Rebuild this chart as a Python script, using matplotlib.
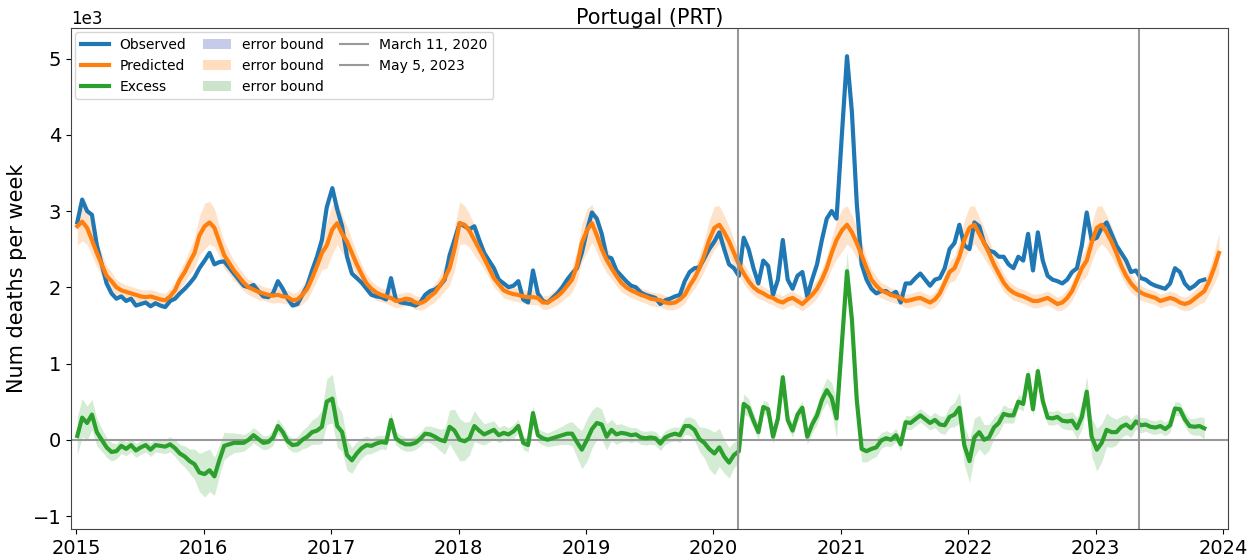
import numpy as np
import pandas as pd
import matplotlib
matplotlib.use("Agg")
import matplotlib.pyplot as plt
import matplotlib.dates as mdates
from matplotlib.patches import Patch
from matplotlib.lines import Line2D

# weekly deaths in thousands, read every two weeks starting Jan 4 of each year
years = [2015, 2016, 2017, 2018, 2019, 2020, 2021, 2022, 2023]

obs_2015 = [2.85, 3.15, 3.00, 2.95, 2.55, 2.30, 2.05, 1.92, 1.85, 1.88, 1.82, 1.85, 1.76, 1.78, 1.80, 1.75, 1.79, 1.76, 1.74, 1.82, 1.85, 1.92, 1.98, 2.05, 2.13, 2.25]
obs_2016 = [2.35, 2.45, 2.30, 2.33, 2.34, 2.26, 2.18, 2.10, 2.02, 2.00, 2.03, 1.95, 1.88, 1.87, 1.92, 2.08, 1.98, 1.85, 1.76, 1.78, 1.90, 2.02, 2.22, 2.40, 2.62, 3.05]
obs_2017 = [3.30, 3.02, 2.80, 2.40, 2.18, 2.12, 2.06, 1.98, 1.90, 1.88, 1.87, 1.84, 2.12, 1.84, 1.80, 1.79, 1.78, 1.76, 1.80, 1.90, 1.95, 1.97, 2.02, 2.10, 2.42, 2.62]
obs_2018 = [2.84, 2.80, 2.76, 2.80, 2.62, 2.45, 2.35, 2.25, 2.10, 2.05, 2.00, 2.02, 2.08, 1.84, 1.80, 2.22, 1.92, 1.82, 1.80, 1.86, 1.92, 2.00, 2.10, 2.18, 2.25, 2.45]
obs_2019 = [2.75, 2.98, 2.90, 2.70, 2.40, 2.38, 2.22, 2.15, 2.08, 2.02, 2.00, 1.93, 1.90, 1.88, 1.86, 1.78, 1.83, 1.85, 1.88, 1.90, 2.08, 2.20, 2.25, 2.26, 2.38, 2.50]
obs_2020 = [2.60, 2.72, 2.50, 2.30, 2.25, 2.15, 2.65, 2.50, 2.25, 2.05, 2.35, 2.28, 1.90, 2.10, 2.62, 2.10, 1.98, 2.15, 2.20, 1.88, 2.10, 2.30, 2.62, 2.90, 3.00, 2.90]
obs_2021 = [4.05, 5.03, 4.30, 3.10, 2.30, 2.10, 1.98, 1.92, 1.95, 1.95, 1.90, 1.94, 1.80, 2.05, 2.05, 2.12, 2.18, 2.10, 2.02, 2.10, 2.12, 2.25, 2.50, 2.58, 2.82, 2.55]
obs_2022 = [2.50, 2.85, 2.80, 2.58, 2.48, 2.46, 2.40, 2.40, 2.30, 2.25, 2.40, 2.35, 2.70, 2.22, 2.72, 2.35, 2.15, 2.10, 2.08, 2.05, 2.10, 2.20, 2.25, 2.55, 2.98, 2.62]
obs_2023 = [2.65, 2.78, 2.85, 2.70, 2.55, 2.45, 2.35, 2.20, 2.22, 2.12, 2.10, 2.05, 2.02, 2.00, 1.98, 2.05, 2.25, 2.20, 2.05, 1.98, 2.02, 2.08, 2.10]

pred_2015 = [2.80, 2.86, 2.78, 2.62, 2.45, 2.30, 2.15, 2.08, 2.00, 1.96, 1.94, 1.92, 1.90, 1.88, 1.87, 1.88, 1.86, 1.84, 1.83, 1.88, 1.96, 2.10, 2.20, 2.33, 2.45, 2.68]
pred_2016 = [2.80, 2.85, 2.78, 2.60, 2.42, 2.32, 2.22, 2.14, 2.06, 2.00, 1.97, 1.94, 1.92, 1.90, 1.89, 1.90, 1.88, 1.87, 1.83, 1.84, 1.90, 1.98, 2.12, 2.28, 2.45, 2.55]
pred_2017 = [2.76, 2.84, 2.70, 2.60, 2.45, 2.30, 2.17, 2.05, 1.98, 1.93, 1.90, 1.88, 1.86, 1.82, 1.83, 1.85, 1.84, 1.80, 1.79, 1.82, 1.88, 1.93, 2.02, 2.12, 2.25, 2.50]
pred_2018 = [2.84, 2.82, 2.74, 2.62, 2.50, 2.38, 2.25, 2.12, 2.04, 1.96, 1.93, 1.91, 1.90, 1.88, 1.87, 1.87, 1.86, 1.80, 1.80, 1.84, 1.88, 1.94, 2.02, 2.10, 2.28, 2.58]
pred_2019 = [2.75, 2.84, 2.68, 2.50, 2.36, 2.25, 2.15, 2.06, 2.00, 1.96, 1.93, 1.90, 1.88, 1.85, 1.84, 1.83, 1.80, 1.79, 1.80, 1.84, 1.90, 2.02, 2.12, 2.25, 2.42, 2.62]
pred_2020 = [2.78, 2.82, 2.72, 2.60, 2.45, 2.30, 2.18, 2.08, 2.00, 1.95, 1.92, 1.88, 1.86, 1.82, 1.80, 1.84, 1.86, 1.82, 1.78, 1.84, 1.90, 1.98, 2.10, 2.25, 2.45, 2.62]
pred_2021 = [2.75, 2.82, 2.72, 2.58, 2.42, 2.25, 2.10, 2.02, 1.96, 1.93, 1.90, 1.88, 1.86, 1.82, 1.83, 1.85, 1.86, 1.83, 1.80, 1.84, 1.92, 2.06, 2.20, 2.25, 2.40, 2.62]
pred_2022 = [2.78, 2.82, 2.70, 2.58, 2.45, 2.30, 2.18, 2.06, 1.98, 1.93, 1.90, 1.88, 1.85, 1.82, 1.82, 1.84, 1.86, 1.82, 1.78, 1.80, 1.86, 1.95, 2.10, 2.25, 2.35, 2.58]
pred_2023 = [2.78, 2.82, 2.72, 2.60, 2.45, 2.28, 2.15, 2.05, 1.98, 1.93, 1.90, 1.88, 1.86, 1.82, 1.84, 1.86, 1.84, 1.80, 1.78, 1.80, 1.85, 1.90, 1.95, 2.08, 2.25, 2.45]

# half width of the error bound (thousands)
err_2015 = [0.25, 0.25, 0.22, 0.20, 0.18, 0.15, 0.13, 0.12, 0.10, 0.10, 0.09, 0.09, 0.09, 0.09, 0.09, 0.09, 0.09, 0.09, 0.09, 0.10, 0.11, 0.12, 0.14, 0.16, 0.20, 0.25]
err_2016 = [0.30, 0.28, 0.25, 0.20, 0.18, 0.15, 0.13, 0.12, 0.11, 0.10, 0.10, 0.10, 0.09, 0.09, 0.10, 0.10, 0.09, 0.09, 0.09, 0.10, 0.12, 0.14, 0.16, 0.18, 0.22, 0.30]
err_2017 = [0.32, 0.28, 0.25, 0.20, 0.17, 0.15, 0.13, 0.12, 0.10, 0.10, 0.09, 0.09, 0.10, 0.09, 0.09, 0.09, 0.09, 0.09, 0.09, 0.10, 0.11, 0.12, 0.14, 0.17, 0.22, 0.28]
err_2018 = [0.28, 0.25, 0.22, 0.20, 0.17, 0.14, 0.13, 0.12, 0.10, 0.10, 0.09, 0.09, 0.09, 0.09, 0.09, 0.10, 0.09, 0.09, 0.09, 0.10, 0.11, 0.12, 0.14, 0.16, 0.20, 0.25]
err_2019 = [0.28, 0.25, 0.22, 0.20, 0.17, 0.14, 0.13, 0.12, 0.10, 0.10, 0.09, 0.09, 0.09, 0.09, 0.09, 0.09, 0.09, 0.09, 0.09, 0.10, 0.11, 0.12, 0.14, 0.16, 0.20, 0.26]
err_2020 = [0.28, 0.25, 0.22, 0.20, 0.17, 0.14, 0.13, 0.12, 0.10, 0.10, 0.09, 0.09, 0.09, 0.09, 0.09, 0.09, 0.09, 0.09, 0.09, 0.10, 0.11, 0.12, 0.14, 0.16, 0.20, 0.25]
err_2021 = [0.28, 0.25, 0.22, 0.20, 0.17, 0.14, 0.13, 0.12, 0.10, 0.10, 0.09, 0.09, 0.09, 0.09, 0.09, 0.09, 0.09, 0.09, 0.09, 0.10, 0.11, 0.12, 0.14, 0.16, 0.20, 0.25]
err_2022 = [0.28, 0.25, 0.22, 0.20, 0.17, 0.14, 0.13, 0.12, 0.10, 0.10, 0.09, 0.09, 0.09, 0.09, 0.09, 0.09, 0.09, 0.09, 0.09, 0.10, 0.11, 0.12, 0.14, 0.16, 0.20, 0.25]
err_2023 = [0.28, 0.25, 0.22, 0.20, 0.17, 0.14, 0.13, 0.12, 0.10, 0.10, 0.09, 0.09, 0.09, 0.09, 0.09, 0.09, 0.09, 0.09, 0.09, 0.10, 0.11, 0.12, 0.14, 0.16, 0.20, 0.26]

start_date = "2020-03-11"
end_date = "2023-05-05"


def dates_for(year, n):
    return [pd.Timestamp(f"{year}-01-04") + pd.Timedelta(days=14 * j) for j in range(n)]


obs_lists = [obs_2015, obs_2016, obs_2017, obs_2018, obs_2019, obs_2020, obs_2021, obs_2022, obs_2023]
pred_lists = [pred_2015, pred_2016, pred_2017, pred_2018, pred_2019, pred_2020, pred_2021, pred_2022, pred_2023]
err_lists = [err_2015, err_2016, err_2017, err_2018, err_2019, err_2020, err_2021, err_2022, err_2023]

obs_dates = []
pred_dates = []
for y, o, p in zip(years, obs_lists, pred_lists):
    obs_dates += dates_for(y, len(o))
    pred_dates += dates_for(y, len(p))

observed = np.concatenate(obs_lists) * 1000
predicted = np.concatenate(pred_lists) * 1000
err = np.concatenate(err_lists) * 1000
n_obs = len(observed)
excess = observed - predicted[:n_obs]

fig = plt.figure(figsize=(12.59, 5.6), dpi=100)
ax = fig.add_axes([0.0564, 0.0554, 0.919, 0.8946])

l_obs, = ax.plot(obs_dates, observed, color="#1f77b4", lw=3, label="Observed")
l_pred, = ax.plot(pred_dates, predicted, color="#ff7f0e", lw=3, label="Predicted")
ax.fill_between(pred_dates, predicted - err, predicted + err, color="#ff7f0e", alpha=0.22, lw=0)
l_exc, = ax.plot(obs_dates, excess, color="#2ca02c", lw=3, label="Excess")
ax.fill_between(obs_dates, excess - err[:n_obs], excess + err[:n_obs], color="#2ca02c", alpha=0.2, lw=0)

ax.axhline(0, color="#999999", lw=1.5, zorder=1)
ax.axvline(pd.Timestamp(start_date), color="#999999", lw=1.5)
ax.axvline(pd.Timestamp(end_date), color="#999999", lw=1.5)

ax.set_xlim(pd.Timestamp("2014-12-17"), pd.Timestamp("2024-01-15"))
ax.set_ylim(-1170, 5400)
ax.xaxis.set_major_locator(mdates.YearLocator())
ax.xaxis.set_major_formatter(mdates.DateFormatter("%Y"))
ax.ticklabel_format(axis="y", style="sci", scilimits=(3, 3))
ax.yaxis.get_offset_text().set_fontsize(12)
ax.tick_params(labelsize=14)
ax.set_ylabel("Num deaths per week", fontsize=15)
ax.set_title("Portugal (PRT)", fontsize=15, pad=3)
for s in ax.spines.values():
    s.set_color("#444444")

handles = [
    l_obs, l_pred, l_exc,
    Patch(facecolor="#c5cbe8", edgecolor="none"),
    Patch(facecolor="#ffddbe", edgecolor="none"),
    Patch(facecolor="#cce4cc", edgecolor="none"),
    Line2D([], [], color="#999999", lw=1.5),
    Line2D([], [], color="#999999", lw=1.5),
]
labels = ["Observed", "Predicted", "Excess", "error bound", "error bound", "error bound",
          "March 11, 2020", "May 5, 2023"]
ax.legend(handles, labels, loc="upper left", ncol=3, fontsize=10, borderaxespad=0.3,
          columnspacing=1.2, framealpha=0.8)

fig.savefig("out.png", dpi=100)
